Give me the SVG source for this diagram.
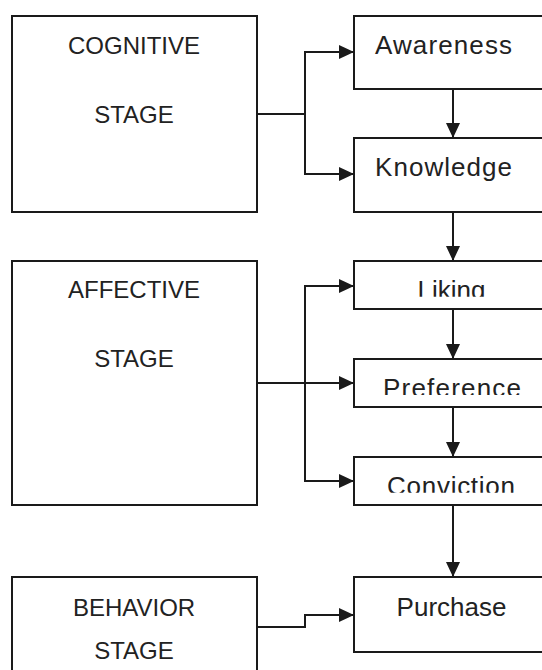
<svg xmlns="http://www.w3.org/2000/svg" width="542" height="670" viewBox="0 0 542 670">
  <style>
    .box { fill: #ffffff; stroke: #1a1a1a; stroke-width: 2; }
    .lbl { font-family: "Liberation Sans", Arial, sans-serif; fill: #222222; }
    .stage { font-size: 24px; text-anchor: middle; }
    .step { font-size: 26px; }
    .mid { text-anchor: middle; }
    .conn { fill: none; stroke: #1a1a1a; stroke-width: 2; }
  </style>
  <defs>
    <marker id="arrow" markerUnits="userSpaceOnUse" markerWidth="16" markerHeight="14" refX="15" refY="7" orient="auto">
      <path d="M0,0 L15,7 L0,14 Z" fill="#1a1a1a"/>
    </marker>
    <clipPath id="clipLiking"><rect x="354" y="261" width="200" height="35.7"/></clipPath>
    <clipPath id="clipPreference"><rect x="354" y="359" width="200" height="36"/></clipPath>
    <clipPath id="clipConviction"><rect x="354" y="457" width="200" height="35.7"/></clipPath>
  </defs>
  <rect width="542" height="670" fill="#ffffff"/>

  <g id="cognitive-stage">
    <rect class="box" x="12" y="16" width="245" height="196"/>
    <text class="lbl stage" x="134" y="54">COGNITIVE</text>
    <text class="lbl stage" x="134" y="123">STAGE</text>
  </g>
  <g id="affective-stage">
    <rect class="box" x="12" y="261" width="245" height="244"/>
    <text class="lbl stage" x="134" y="298">AFFECTIVE</text>
    <text class="lbl stage" x="134" y="367">STAGE</text>
  </g>
  <g id="behavior-stage">
    <rect class="box" x="12" y="577" width="245" height="110"/>
    <text class="lbl stage" x="134" y="616">BEHAVIOR</text>
    <text class="lbl stage" x="134" y="659">STAGE</text>
  </g>

  <g id="awareness">
    <rect class="box" x="354" y="16" width="200" height="73"/>
    <text class="lbl step" x="375" y="53.5" textLength="137">Awareness</text>
  </g>
  <g id="knowledge">
    <rect class="box" x="354" y="138" width="200" height="74"/>
    <text class="lbl step" x="375" y="176" textLength="137">Knowledge</text>
  </g>
  <g id="liking">
    <rect class="box" x="354" y="261" width="200" height="48"/>
    <text class="lbl step mid" x="451.5" y="299.3" clip-path="url(#clipLiking)">Liking</text>
  </g>
  <g id="preference">
    <rect class="box" x="354" y="359" width="200" height="48"/>
    <text class="lbl step" x="383" y="396.6" textLength="138" clip-path="url(#clipPreference)">Preference</text>
  </g>
  <g id="conviction">
    <rect class="box" x="354" y="457" width="200" height="48"/>
    <text class="lbl step" x="387" y="494.6" textLength="128" clip-path="url(#clipConviction)">Conviction</text>
  </g>
  <g id="purchase">
    <rect class="box" x="354" y="577" width="200" height="75"/>
    <text class="lbl step mid" x="451.5" y="616">Purchase</text>
  </g>

  <g id="connectors">
    <path class="conn" d="M257,114 H305 V52 H354" marker-end="url(#arrow)"/>
    <path class="conn" d="M305,114 V174 H354" marker-end="url(#arrow)"/>
    <path class="conn" d="M453,89 V138" marker-end="url(#arrow)"/>
    <path class="conn" d="M453,212 V261" marker-end="url(#arrow)"/>
    <path class="conn" d="M257,383 H354" marker-end="url(#arrow)"/>
    <path class="conn" d="M305,383 V286 H354" marker-end="url(#arrow)"/>
    <path class="conn" d="M305,383 V481 H354" marker-end="url(#arrow)"/>
    <path class="conn" d="M453,309 V359" marker-end="url(#arrow)"/>
    <path class="conn" d="M453,407 V457" marker-end="url(#arrow)"/>
    <path class="conn" d="M453,505 V577" marker-end="url(#arrow)"/>
    <path class="conn" d="M257,627 H305 V615 H354" marker-end="url(#arrow)"/>
  </g>
</svg>
